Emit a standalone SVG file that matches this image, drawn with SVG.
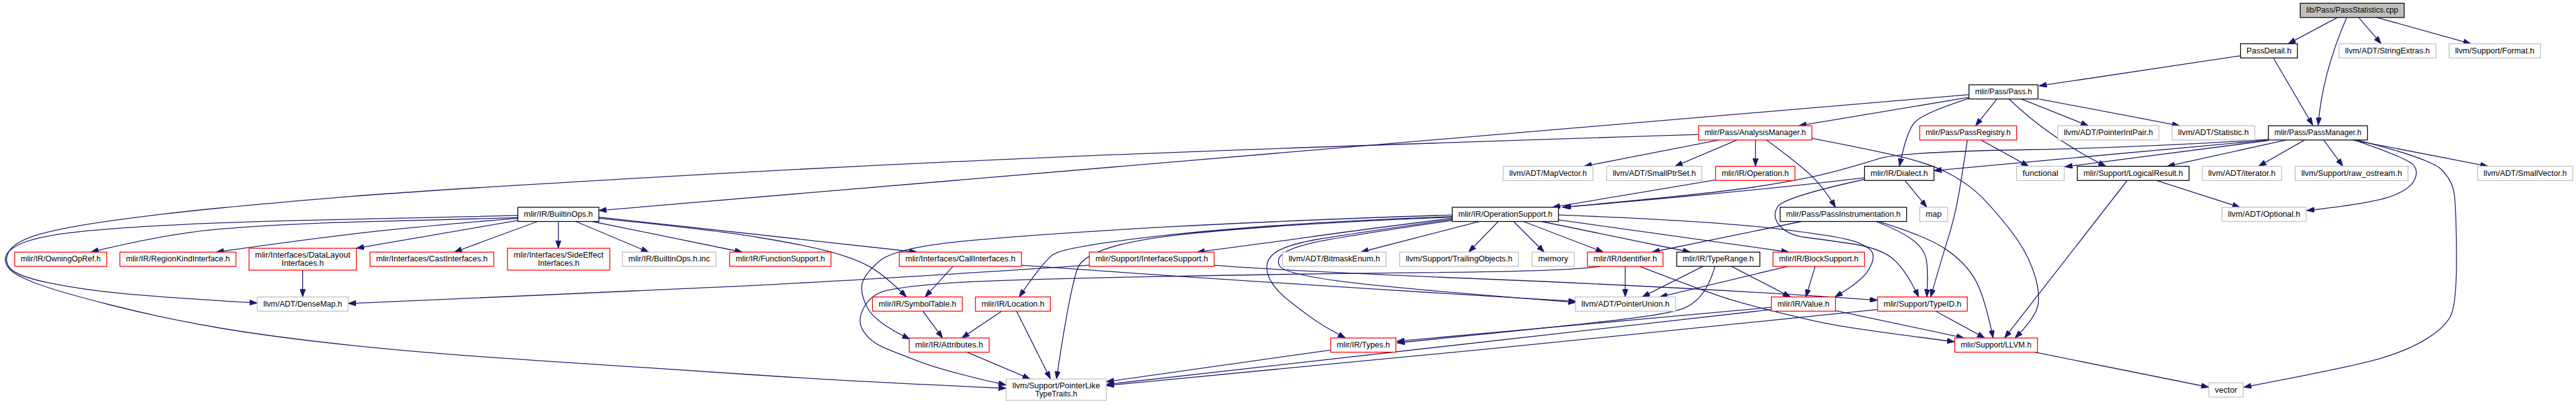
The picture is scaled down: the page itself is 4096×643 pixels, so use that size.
<svg xmlns="http://www.w3.org/2000/svg" width="4096" height="643" viewBox="0 0 4096 643">
<defs>
<style>
.nb rect{fill:#fff;stroke:#000;stroke-width:1.5}
.nr rect{fill:#fff;stroke:#ff0000;stroke-width:1.5}
.ng rect{fill:#fff;stroke:#bfbfbf;stroke-width:1.5}
.nt rect{fill:#bfbfbf;stroke:#000;stroke-width:1.5}
text{font-family:"Liberation Sans",Arial,sans-serif;font-size:15px;text-anchor:middle;fill:#000}
#edges path{fill:none;stroke:#191970;stroke-width:1.5;marker-end:url(#ah)}
</style>
<marker id="ah" markerUnits="userSpaceOnUse" markerWidth="14" markerHeight="10" refX="14" refY="5" orient="auto">
<path d="M0,0 L14,5 L0,10 z" fill="#191970" stroke="#191970" stroke-width="1"/>
</marker>
</defs>
<rect width="4096" height="643" fill="#fff"/>
<g transform="scale(0.8704)">
<g id="edges">
<path d="M4270,32 L4180,80"/>
<path d="M4287,32 C4262,90 4240,160 4235,229"/>
<path d="M4309,32 L4350,80"/>
<path d="M4342,32 L4514,80"/>
<path d="M4093,102 L3725,157"/>
<path d="M4153,106 L4225,229"/>
<path d="M3597,178 L3286,230"/>
<path d="M3597,173 L1094,385"/>
<path d="M3103,246 Q2340,270 1950,286.5 Q1560,303 1170,325.5 Q780,348 644.5,359 Q509,370 405.5,380 Q302,390 211,402.5 Q120,415 75,427.5 Q30,440 18,457.5 Q6,475 18,490 Q30,505 90.5,517.5 Q151,530 226.5,537 Q302,544 470,554"/>
<path d="M946,394 Q790,398 596.5,402 Q403,406 277,413.5 Q151,421 100.5,429.5 Q50,438 31,449 Q12,460 10,470 Q8,480 16.5,491 Q25,502 63,517 Q101,532 201.5,557.5 Q302,583 403,600 Q504,617 647,632 Q790,647 986.5,659.5 Q1183,672 1371.5,685 Q1560,698 1838,710"/>
<path d="M946,398 Q790,402 645,406 Q500,410 400,419 Q300,428 166,461"/>
<path d="M946,399 Q790,412 695,422 Q600,432 395,461"/>
<path d="M946,403 L651,454"/>
<path d="M982,405 L830,461"/>
<path d="M1020,405 L1020,454"/>
<path d="M1052,405 L1185,461"/>
<path d="M1082,405 L1356,461"/>
<path d="M1094,397 L1675,461"/>
<path d="M1094,399 Q1300,420 1385,434 Q1470,448 1515,460 Q1560,472 1587.5,487 Q1615,502 1656,543"/>
<path d="M2702,405 L2486,461"/>
<path d="M2737,405 L2683,461"/>
<path d="M2765,405 L2821,461"/>
<path d="M2783,405 L2929,461"/>
<path d="M2816,405 L3088,461"/>
<path d="M2847,402 L3268,461"/>
<path d="M2847,393 Q3125,404 3243.5,418 Q3362,432 3389.5,442 Q3417,452 3421,463.5 Q3425,475 3412.5,495 Q3400,515 3352,543"/>
<path d="M2653,393 Q2350,403 2131.5,415 Q1913,427 1774.5,439.5 Q1636,452 1606.5,477.5 Q1577,503 1574.5,521.5 Q1572,540 1586,565 Q1600,590 1662,620"/>
<path d="M2653,396 Q2350,407 2146.5,428.5 Q1943,450 1923,466 Q1903,482 1862,543"/>
<path d="M2653,397 Q2350,409 2166.5,428 Q1983,447 1968,492 Q1953,537 1930,693"/>
<path d="M2653,399 Q2450,425 2395,433 Q2340,441 2187,461"/>
<path d="M2653,401 Q2450,430 2405,438 Q2360,446 2339,456.5 Q2318,467 2315,482 Q2312,497 2322,514.5 Q2332,532 2356,551 Q2380,570 2400,584 Q2420,598 2458,618"/>
<path d="M2653,403 Q2450,433 2407.5,442 Q2365,451 2347.5,461.5 Q2330,472 2337.5,486 Q2345,500 2443,513.5 Q2541,527 2879,553"/>
<path d="M2218,485 Q2340,495 2730,511 Q3120,527 3430,549"/>
<path d="M2969,487 L2969,543"/>
<path d="M2995,487 Q3125,537 3160.5,547.5 Q3196,558 3233.5,567.5 Q3271,577 3321.5,588.5 Q3372,600 3571,625"/>
<path d="M3291,405 L3018,461"/>
<path d="M3427,405 Q3473,423 3493,438 Q3513,453 3518,470 Q3523,487 3520,543"/>
<path d="M3432,405 Q3520,432 3555,456 Q3590,480 3607.5,510 Q3625,540 3641,618"/>
<path d="M3111,487 L3000,543"/>
<path d="M3163,487 L3271,543"/>
<path d="M3133,487 Q3125,515 3112.5,533.5 Q3100,552 3080,562 Q3060,572 2980,582 Q2900,592 2552,627"/>
<path d="M3316,487 L3299,543"/>
<path d="M3266,487 L3032,543"/>
<path d="M3353,568 L3588,618"/>
<path d="M3236,562 L2552,624"/>
<path d="M3236,566 L2021,703"/>
<path d="M3536,569 L3626,618"/>
<path d="M3430,566 Q3120,599 2730,637 Q2340,675 2021,705"/>
<path d="M2431,640 L2021,698"/>
<path d="M1767,644 L1882,693"/>
<path d="M1857,569 L1919,693"/>
<path d="M1830,569 L1757,618"/>
<path d="M1686,569 L1722,618"/>
<path d="M1741,487 L1690,543"/>
<path d="M1866,485 Q2350,520 2879,551"/>
<path d="M1990,485 Q1560,513 1365,522.5 Q1170,532 980,540 Q790,548 636,555"/>
<path d="M553,494 L553,543"/>
<path d="M2924,487 Q2869,496 2604.5,498.5 Q2340,501 2070,506.5 Q1800,512 1720,518.5 Q1640,525 1615,532.5 Q1590,540 1577.5,563.5 Q1565,587 1577.5,606 Q1590,625 1613,635 Q1636,645 1683,662.5 Q1730,680 1838,704"/>
<path d="M3619,256 L3706,304"/>
<path d="M3594,256 Q3583,330 3576.5,365 Q3570,400 3559,435 Q3548,470 3527,543"/>
<path d="M3140,256 L2894,304"/>
<path d="M3173,256 L3060,304"/>
<path d="M3207,256 L3207,304"/>
<path d="M3227,256 Q3280,295 3305,317.5 Q3330,340 3353,379"/>
<path d="M3310,253 Q3450,280 3495,292.5 Q3540,305 3570,322.5 Q3600,340 3620,360 Q3640,380 3670,417.5 Q3700,455 3713.5,492.5 Q3727,530 3723.5,555 Q3720,580 3681,618"/>
<path d="M3648,181 L3609,230"/>
<path d="M3597,180 Q3513,207 3498,223.5 Q3483,240 3470,304"/>
<path d="M3670,181 Q3745,253 3847,304"/>
<path d="M3693,181 L3815,230"/>
<path d="M3725,181 L3982,230"/>
<path d="M4176,256 L3959,304"/>
<path d="M4210,256 L4126,304"/>
<path d="M4245,256 L4280,304"/>
<path d="M4298,256 L4545,304"/>
<path d="M4301,256 Q4400,290 4409.5,302.5 Q4419,315 4409.5,331.5 Q4400,348 4365,360 Q4330,372 4214,385"/>
<path d="M4306,256 Q4440,290 4460,310 Q4480,330 4483.5,355 Q4487,380 4487.5,468.5 Q4488,557 4476.5,578.5 Q4465,600 4432.5,620 Q4400,640 4350,655 Q4300,670 4099,708"/>
<path d="M4144,255 Q3910,270 3690,274 Q3470,278 3431,290.5 Q3392,303 3344,315.5 Q3296,328 3208,341.5 Q3120,355 2854,379"/>
<path d="M4144,256 L3533,312"/>
<path d="M4144,257 L3772,305"/>
<path d="M3406,325 Q3200,350 2856,379"/>
<path d="M3480,330 L3520,379"/>
<path d="M3406,328 Q3260,360 3248,377.5 Q3236,395 3251,412.5 Q3266,430 3298,434 Q3330,438 3381,445.5 Q3432,453 3456,471.5 Q3480,490 3505,543"/>
<path d="M3134,329 L2836,379"/>
<path d="M3886,330 L3662,618"/>
<path d="M3939,330 L4092,379"/>
<path d="M3712,643 L4035,708"/>
</g>
<g id="n-title" class="nt"><rect x="4202" y="6" width="190" height="26"/><text x="4297" y="23.5" textLength="168" lengthAdjust="spacingAndGlyphs">lib/Pass/PassStatistics.cpp</text></g>
<g id="n-passdetail" class="nb"><rect x="4093" y="80" width="104" height="26"/><text x="4145" y="97.5" textLength="82" lengthAdjust="spacingAndGlyphs">PassDetail.h</text></g>
<g id="n-stringextras" class="ng"><rect x="4273" y="80" width="177" height="26"/><text x="4361.5" y="97.5" textLength="155" lengthAdjust="spacingAndGlyphs">llvm/ADT/StringExtras.h</text></g>
<g id="n-format" class="ng"><rect x="4474" y="80" width="167" height="26"/><text x="4557.5" y="97.5" textLength="145" lengthAdjust="spacingAndGlyphs">llvm/Support/Format.h</text></g>
<g id="n-pass" class="nb"><rect x="3597" y="155" width="126" height="26"/><text x="3660" y="172.5" textLength="104" lengthAdjust="spacingAndGlyphs">mlir/Pass/Pass.h</text></g>
<g id="n-analysismanager" class="nr"><rect x="3103" y="230" width="207" height="26"/><text x="3206.5" y="247.5" textLength="185" lengthAdjust="spacingAndGlyphs">mlir/Pass/AnalysisManager.h</text></g>
<g id="n-passregistry" class="nr"><rect x="3507" y="230" width="177" height="26"/><text x="3595.5" y="247.5" textLength="155" lengthAdjust="spacingAndGlyphs">mlir/Pass/PassRegistry.h</text></g>
<g id="n-pointerintpair" class="ng"><rect x="3759" y="230" width="185" height="26"/><text x="3851.5" y="247.5" textLength="163" lengthAdjust="spacingAndGlyphs">llvm/ADT/PointerIntPair.h</text></g>
<g id="n-statistic" class="ng"><rect x="3968" y="230" width="151" height="26"/><text x="4043.5" y="247.5" textLength="129" lengthAdjust="spacingAndGlyphs">llvm/ADT/Statistic.h</text></g>
<g id="n-passmanager" class="nb"><rect x="4144" y="230" width="181" height="26"/><text x="4234.5" y="247.5" textLength="159" lengthAdjust="spacingAndGlyphs">mlir/Pass/PassManager.h</text></g>
<g id="n-mapvector" class="ng"><rect x="2746" y="304" width="164" height="26"/><text x="2828" y="321.5" textLength="142" lengthAdjust="spacingAndGlyphs">llvm/ADT/MapVector.h</text></g>
<g id="n-smallptrset" class="ng"><rect x="2935" y="304" width="174" height="26"/><text x="3022" y="321.5" textLength="152" lengthAdjust="spacingAndGlyphs">llvm/ADT/SmallPtrSet.h</text></g>
<g id="n-operation" class="nr"><rect x="3134" y="304" width="145" height="26"/><text x="3206.5" y="321.5" textLength="123" lengthAdjust="spacingAndGlyphs">mlir/IR/Operation.h</text></g>
<g id="n-dialect" class="nb"><rect x="3406" y="304" width="127" height="26"/><text x="3469.5" y="321.5" textLength="105" lengthAdjust="spacingAndGlyphs">mlir/IR/Dialect.h</text></g>
<g id="n-functional" class="ng"><rect x="3684" y="304" width="87" height="26"/><text x="3727.5" y="321.5" textLength="65" lengthAdjust="spacingAndGlyphs">functional</text></g>
<g id="n-logicalresult" class="nb"><rect x="3795" y="304" width="204" height="26"/><text x="3897" y="321.5" textLength="182" lengthAdjust="spacingAndGlyphs">mlir/Support/LogicalResult.h</text></g>
<g id="n-iterator" class="ng"><rect x="4023" y="304" width="145" height="26"/><text x="4095.5" y="321.5" textLength="123" lengthAdjust="spacingAndGlyphs">llvm/ADT/iterator.h</text></g>
<g id="n-rawostream" class="ng"><rect x="4193" y="304" width="206" height="26"/><text x="4296" y="321.5" textLength="184" lengthAdjust="spacingAndGlyphs">llvm/Support/raw_ostream.h</text></g>
<g id="n-smallvector" class="ng"><rect x="4526" y="304" width="174" height="26"/><text x="4613" y="321.5" textLength="152" lengthAdjust="spacingAndGlyphs">llvm/ADT/SmallVector.h</text></g>
<g id="n-builtinops" class="nb"><rect x="946" y="379" width="148" height="26"/><text x="1020" y="396.5" textLength="126" lengthAdjust="spacingAndGlyphs">mlir/IR/BuiltinOps.h</text></g>
<g id="n-operationsupport" class="nb"><rect x="2653" y="379" width="194" height="26"/><text x="2750" y="396.5" textLength="172" lengthAdjust="spacingAndGlyphs">mlir/IR/OperationSupport.h</text></g>
<g id="n-passinstrumentation" class="nb"><rect x="3252" y="379" width="231" height="26"/><text x="3367.5" y="396.5" textLength="209" lengthAdjust="spacingAndGlyphs">mlir/Pass/PassInstrumentation.h</text></g>
<g id="n-map" class="ng"><rect x="3507" y="379" width="51" height="26"/><text x="3532.5" y="396.5" textLength="29" lengthAdjust="spacingAndGlyphs">map</text></g>
<g id="n-optional" class="ng"><rect x="4059" y="379" width="154" height="26"/><text x="4136" y="396.5" textLength="132" lengthAdjust="spacingAndGlyphs">llvm/ADT/Optional.h</text></g>
<g id="n-owningopref" class="nr"><rect x="27" y="461" width="168" height="26"/><text x="111" y="478.5" textLength="146" lengthAdjust="spacingAndGlyphs">mlir/IR/OwningOpRef.h</text></g>
<g id="n-regionkind" class="nr"><rect x="219" y="461" width="212" height="26"/><text x="325" y="478.5" textLength="190" lengthAdjust="spacingAndGlyphs">mlir/IR/RegionKindInterface.h</text></g>
<g id="n-datalayout" class="nr"><rect x="455" y="454" width="196" height="40"/><text x="553" y="470.5" textLength="174" lengthAdjust="spacingAndGlyphs">mlir/Interfaces/DataLayout</text><text x="553" y="485.5" textLength="77" lengthAdjust="spacingAndGlyphs">Interfaces.h</text></g>
<g id="n-cast" class="nr"><rect x="676" y="461" width="226" height="26"/><text x="789" y="478.5" textLength="204" lengthAdjust="spacingAndGlyphs">mlir/Interfaces/CastInterfaces.h</text></g>
<g id="n-sideeffect" class="nr"><rect x="927" y="454" width="187" height="40"/><text x="1020.5" y="470.5" textLength="164" lengthAdjust="spacingAndGlyphs">mlir/Interfaces/SideEffect</text><text x="1020.5" y="485.5" textLength="76" lengthAdjust="spacingAndGlyphs">Interfaces.h</text></g>
<g id="n-builtinopsinc" class="ng"><rect x="1137" y="461" width="171" height="26"/><text x="1222.5" y="478.5" textLength="149" lengthAdjust="spacingAndGlyphs">mlir/IR/BuiltinOps.h.inc</text></g>
<g id="n-functionsupport" class="nr"><rect x="1333" y="461" width="185" height="26"/><text x="1425.5" y="478.5" textLength="163" lengthAdjust="spacingAndGlyphs">mlir/IR/FunctionSupport.h</text></g>
<g id="n-callinterfaces" class="nr"><rect x="1643" y="461" width="223" height="26"/><text x="1754.5" y="478.5" textLength="201" lengthAdjust="spacingAndGlyphs">mlir/Interfaces/CallInterfaces.h</text></g>
<g id="n-interfacesupport" class="nr"><rect x="1990" y="461" width="228" height="26"/><text x="2104" y="478.5" textLength="206" lengthAdjust="spacingAndGlyphs">mlir/Support/InterfaceSupport.h</text></g>
<g id="n-bitmaskenum" class="ng"><rect x="2343" y="461" width="189" height="26"/><text x="2437.5" y="478.5" textLength="167" lengthAdjust="spacingAndGlyphs">llvm/ADT/BitmaskEnum.h</text></g>
<g id="n-trailingobjects" class="ng"><rect x="2557" y="461" width="217" height="26"/><text x="2665.5" y="478.5" textLength="195" lengthAdjust="spacingAndGlyphs">llvm/Support/TrailingObjects.h</text></g>
<g id="n-memory" class="ng"><rect x="2799" y="461" width="77" height="26"/><text x="2837.5" y="478.5" textLength="55" lengthAdjust="spacingAndGlyphs">memory</text></g>
<g id="n-identifier" class="nr"><rect x="2900" y="461" width="138" height="26"/><text x="2969" y="478.5" textLength="116" lengthAdjust="spacingAndGlyphs">mlir/IR/Identifier.h</text></g>
<g id="n-typerange" class="nb"><rect x="3063" y="461" width="152" height="26"/><text x="3139" y="478.5" textLength="130" lengthAdjust="spacingAndGlyphs">mlir/IR/TypeRange.h</text></g>
<g id="n-blocksupport" class="nr"><rect x="3239" y="461" width="167" height="26"/><text x="3322.5" y="478.5" textLength="145" lengthAdjust="spacingAndGlyphs">mlir/IR/BlockSupport.h</text></g>
<g id="n-densemap" class="ng"><rect x="470" y="543" width="166" height="26"/><text x="553" y="560.5" textLength="144" lengthAdjust="spacingAndGlyphs">llvm/ADT/DenseMap.h</text></g>
<g id="n-symboltable" class="nr"><rect x="1594" y="543" width="164" height="26"/><text x="1676" y="560.5" textLength="142" lengthAdjust="spacingAndGlyphs">mlir/IR/SymbolTable.h</text></g>
<g id="n-location" class="nr"><rect x="1782" y="543" width="137" height="26"/><text x="1850.5" y="560.5" textLength="115" lengthAdjust="spacingAndGlyphs">mlir/IR/Location.h</text></g>
<g id="n-pointerunion" class="ng"><rect x="2878" y="543" width="183" height="26"/><text x="2969.5" y="560.5" textLength="161" lengthAdjust="spacingAndGlyphs">llvm/ADT/PointerUnion.h</text></g>
<g id="n-value" class="nr"><rect x="3236" y="543" width="117" height="26"/><text x="3294.5" y="560.5" textLength="95" lengthAdjust="spacingAndGlyphs">mlir/IR/Value.h</text></g>
<g id="n-typeid" class="nr"><rect x="3430" y="543" width="164" height="26"/><text x="3512" y="560.5" textLength="142" lengthAdjust="spacingAndGlyphs">mlir/Support/TypeID.h</text></g>
<g id="n-attributes" class="nr"><rect x="1661" y="618" width="146" height="26"/><text x="1734" y="635.5" textLength="124" lengthAdjust="spacingAndGlyphs">mlir/IR/Attributes.h</text></g>
<g id="n-types" class="nr"><rect x="2431" y="618" width="119" height="26"/><text x="2490.5" y="635.5" textLength="97" lengthAdjust="spacingAndGlyphs">mlir/IR/Types.h</text></g>
<g id="n-llvm" class="nr"><rect x="3571" y="618" width="151" height="26"/><text x="3646.5" y="635.5" textLength="129" lengthAdjust="spacingAndGlyphs">mlir/Support/LLVM.h</text></g>
<g id="n-pointerliketypetraits" class="ng"><rect x="1838" y="693" width="183" height="39"/><text x="1929.5" y="709.5" textLength="160" lengthAdjust="spacingAndGlyphs">llvm/Support/PointerLike</text><text x="1929.5" y="724.5" textLength="77" lengthAdjust="spacingAndGlyphs">TypeTraits.h</text></g>
<g id="n-vector" class="ng"><rect x="4035" y="700" width="63" height="26"/><text x="4066.5" y="717.5" textLength="41" lengthAdjust="spacingAndGlyphs">vector</text></g>
</g>
</svg>
